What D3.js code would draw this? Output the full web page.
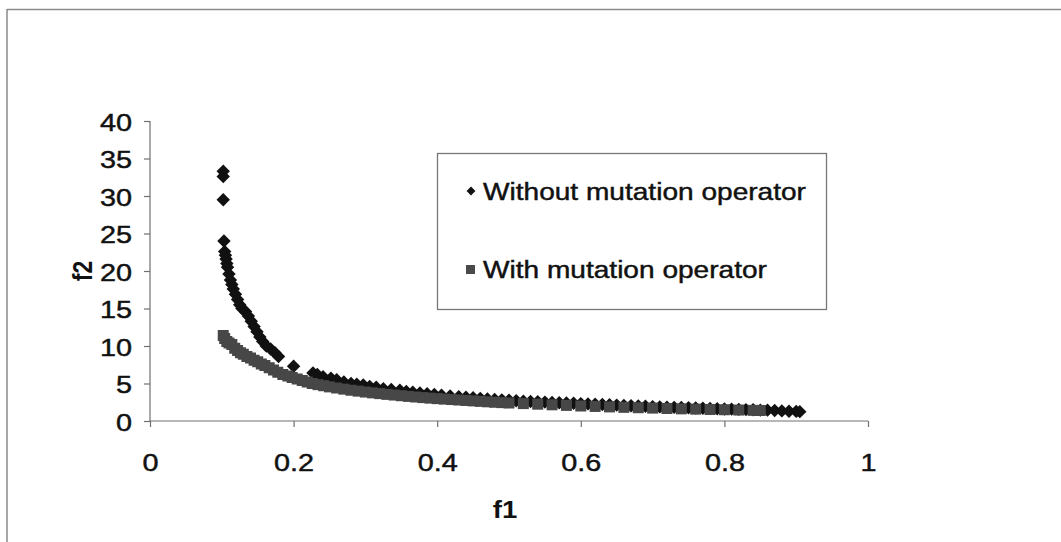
<!DOCTYPE html>
<html>
<head>
<meta charset="utf-8">
<script src="https://cdn.jsdelivr.net/npm/d3@7"></script>
<style>
  html, body { margin: 0; padding: 0; background: #fff; }
  svg { display: block; font-family: Arial, "Liberation Sans", sans-serif; }
</style>
</head>
<body>
<svg id="chart" width="1061" height="542"></svg>
<script>
// ---- data ----
const xTicks = [0, 0.2, 0.4, 0.6, 0.8, 1];
const xTickLabels = ["0", "0.2", "0.4", "0.6", "0.8", "1"];
const yTicks = [0, 5, 10, 15, 20, 25, 30, 35, 40];
const yTickLabels = ["0", "5", "10", "15", "20", "25", "30", "35", "40"];
const seriesNames = ["Without mutation operator", "With mutation operator"];

// Without mutation operator
const withoutF1 = [0.102,0.102,0.102,0.103,0.104,0.105,0.106,0.107,0.108,0.110,0.112,0.114,0.116,0.119,0.122,0.125,0.128,0.133,0.137,0.141,0.145,0.149,0.153,0.157,0.162,0.168,0.174,0.179,0.200,0.227,0.233,0.241,0.252,0.260,0.270,0.280,0.288,0.297,0.306,0.315,0.325,0.336,0.348,0.357,0.366,0.376,0.386,0.396,0.406,0.418,0.430,0.440,0.450,0.460,0.470,0.480,0.490,0.500,0.510,0.520,0.530,0.540,0.550,0.560,0.570,0.580,0.590,0.600,0.610,0.620,0.630,0.640,0.650,0.660,0.670,0.680,0.690,0.700,0.710,0.720,0.730,0.740,0.750,0.760,0.770,0.780,0.790,0.800,0.810,0.820,0.830,0.840,0.850,0.860,0.870,0.880,0.890,0.900,0.905];
const withoutF2 = [33.3,32.6,29.5,24.0,22.6,22.1,21.6,21.0,20.5,19.6,18.8,18.2,17.6,16.9,16.2,15.5,15.0,14.6,14.0,13.3,12.6,11.9,11.2,10.6,10.0,9.6,9.1,8.6,7.3,6.4,6.2,5.9,5.7,5.5,5.2,5.0,4.9,4.8,4.6,4.5,4.3,4.2,4.1,3.95,3.85,3.75,3.65,3.55,3.45,3.35,3.25,3.18,3.1,3.02,2.95,2.88,2.82,2.76,2.7,2.65,2.6,2.56,2.52,2.48,2.44,2.4,2.36,2.32,2.28,2.24,2.2,2.16,2.12,2.08,2.04,2.0,1.96,1.92,1.88,1.85,1.82,1.79,1.76,1.73,1.7,1.67,1.64,1.61,1.58,1.55,1.52,1.5,1.45,1.45,1.4,1.35,1.3,1.28,1.25];

// With mutation operator
const withF1 = [0.102,0.104,0.107,0.110,0.114,0.118,0.122,0.126,0.130,0.135,0.140,0.145,0.150,0.155,0.160,0.166,0.172,0.178,0.185,0.192,0.198,0.205,0.212,0.219,0.226,0.234,0.242,0.250,0.260,0.270,0.280,0.290,0.300,0.310,0.320,0.330,0.340,0.350,0.360,0.370,0.380,0.390,0.400,0.410,0.420,0.430,0.440,0.450,0.460,0.470,0.480,0.490,0.500,0.520,0.540,0.560,0.580,0.600,0.620,0.640,0.660,0.680,0.700,0.720,0.740,0.760,0.780,0.800,0.820,0.840,0.850];
const withF2 = [11.4,11.0,10.6,10.4,10.2,9.7,9.4,9.1,8.9,8.6,8.4,8.1,7.9,7.6,7.4,7.1,6.8,6.5,6.2,6.0,5.8,5.6,5.4,5.2,5.0,4.85,4.7,4.55,4.4,4.25,4.1,3.98,3.86,3.75,3.65,3.55,3.46,3.37,3.28,3.2,3.12,3.05,2.98,2.92,2.86,2.8,2.74,2.68,2.62,2.56,2.5,2.45,2.4,2.32,2.24,2.16,2.08,2.0,1.94,1.88,1.82,1.77,1.72,1.67,1.62,1.58,1.54,1.5,1.46,1.42,1.4];

// ---- drawing ----
const svg = d3.select("#chart");
const margin = { left: 150, top: 121, right: 193, bottom: 121 };
const W = 1061, H = 542;

const x = d3.scaleLinear().domain([0, 1]).range([margin.left, W - margin.right]);
const y = d3.scaleLinear().domain([0, 40]).range([H - margin.bottom, margin.top]);

const stretch = 1.2;
const ink = "#111";
function stretchedText(sel, px, py) {
  sel.attr("transform", `translate(${px},${py}) scale(${stretch},1)`);
}

// outer chart frame (scanned border)
svg.append("line").attr("x1", 7).attr("x2", W).attr("y1", 9.5).attr("y2", 9.5)
  .attr("stroke", "#8a8a8a").attr("stroke-width", 1.5);
svg.append("line").attr("x1", 7).attr("x2", 7).attr("y1", 9).attr("y2", H)
  .attr("stroke", "#8a8a8a").attr("stroke-width", 1.5);

// axes
const xAxis = d3.axisBottom(x).tickValues(xTicks).tickSize(6).tickFormat((d, i) => xTickLabels[i]);
const yAxis = d3.axisLeft(y).tickValues(yTicks).tickSize(6).tickFormat((d, i) => yTickLabels[i]);

const gx = svg.append("g").attr("transform", `translate(0,${y(0)})`).call(xAxis);
const gy = svg.append("g").attr("transform", `translate(${x(0)},0)`).call(yAxis);

[gx, gy].forEach(g => {
  g.select(".domain").attr("stroke", "#707070").attr("stroke-width", 1.2);
  g.selectAll(".tick line").attr("stroke", "#707070").attr("stroke-width", 1.2);
  g.selectAll(".tick text").attr("fill", ink).attr("font-size", 24)
    .attr("stroke", ink).attr("stroke-width", 0.45)
    .attr("font-family", "Arial, 'Liberation Sans', sans-serif");
});
gx.select(".domain").attr("d", `M${x(0)},0H${x(1)}`);
gy.select(".domain").attr("d", `M0,${y(40)}V${y(0)}`);
gx.selectAll(".tick text").attr("y", 0).attr("dy", 0)
  .each(function () { stretchedText(d3.select(this), 0, 50); });
gy.selectAll(".tick text").attr("x", 0).attr("dy", 0)
  .each(function () { stretchedText(d3.select(this), -18, 9); });

// axis titles
svg.append("text").text("f1")
  .attr("font-size", 23).attr("font-weight", "bold").attr("fill", ink)
  .attr("text-anchor", "middle")
  .attr("transform", `translate(${(x(0) + x(1)) / 2 - 4},${y(0) + 97}) scale(${stretch},1)`);
svg.append("text").text("f2")
  .attr("font-size", 23).attr("font-weight", "bold").attr("fill", ink)
  .attr("text-anchor", "middle")
  .attr("transform", `translate(${x(0) - 58},${(y(0) + y(40)) / 2}) rotate(-90) scale(1,${stretch})`);

// series
const withData = withF1.map((v, i) => ({ f1: v, f2: withF2[i] }));
const withoutData = withoutF1.map((v, i) => ({ f1: v, f2: withoutF2[i] }));

const diamond = d3.symbol().type(d3.symbolDiamond2).size(115);
svg.append("g").selectAll("path").data(withoutData).join("path")
  .attr("d", diamond)
  .attr("transform", d => `translate(${x(d.f1)},${y(d.f2)})`)
  .attr("fill", ink);

const sqSize = 11;
svg.append("g").selectAll("rect").data(withData).join("rect")
  .attr("x", d => x(d.f1) - sqSize / 2).attr("y", d => y(d.f2) - sqSize / 2)
  .attr("width", sqSize).attr("height", sqSize)
  .attr("fill", "#474747");

// legend
const lg = svg.append("g");
lg.append("rect").attr("x", 437.5).attr("y", 153.5).attr("width", 389).attr("height", 156)
  .attr("fill", "#fff").attr("stroke", "#777").attr("stroke-width", 1.3);
lg.append("path").attr("d", d3.symbol().type(d3.symbolDiamond2).size(50))
  .attr("transform", "translate(471,191)").attr("fill", ink);
lg.append("rect").attr("x", 466).attr("y", 265).attr("width", 9).attr("height", 9).attr("fill", "#4a4a4a");
lg.append("text").text(seriesNames[0]).attr("font-size", 24).attr("fill", ink)
  .attr("stroke", ink).attr("stroke-width", 0.45)
  .attr("transform", `translate(483,200) scale(1.17,1)`);
lg.append("text").text(seriesNames[1]).attr("font-size", 24).attr("fill", ink)
  .attr("stroke", ink).attr("stroke-width", 0.45)
  .attr("transform", `translate(483,278) scale(1.17,1)`);
</script>
</body>
</html>
